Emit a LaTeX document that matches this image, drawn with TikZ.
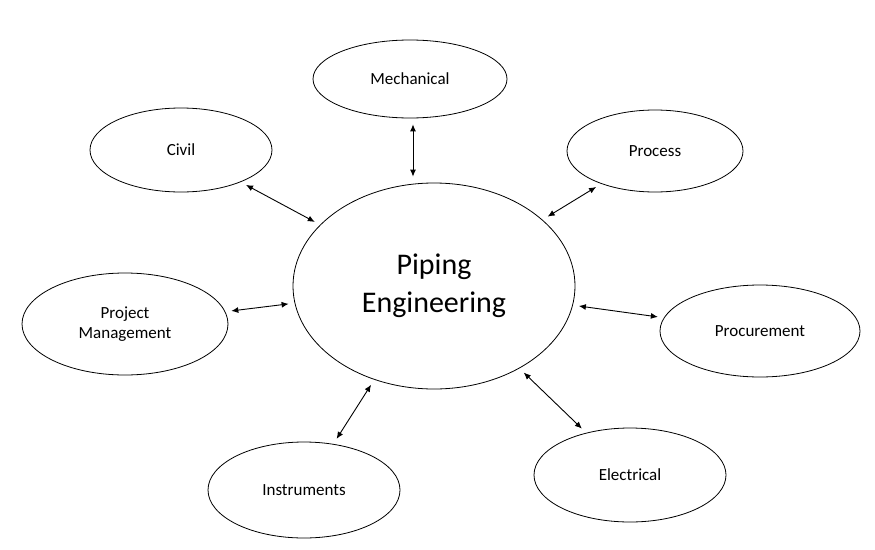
\documentclass[tikz,border=0pt]{standalone}
\usepackage{fontspec}
\setmainfont{Carlito}
\usetikzlibrary{shapes.geometric,arrows.meta}
\begin{document}
\begin{tikzpicture}[x=1pt,y=-1pt,
  el/.style={draw,ellipse,line width=0.8pt,inner sep=0pt,font=\fontsize{17}{20}\selectfont,align=center},
  con/.style={{Latex[length=7pt,width=6pt]}-{Latex[length=7pt,width=6pt]},line width=0.9pt,shorten <=6pt,shorten >=6pt}]
\useasboundingbox (0,0) rectangle (875,549);
\fill[white] (0,0) rectangle (875,549);
\node[el,minimum width=282pt,minimum height=206pt,font=\fontsize{30}{38}\selectfont] (pip) at (434,286) {Piping\\Engineering};
\node[el,minimum width=194pt,minimum height=78pt] (mec) at (410,79) {Mechanical};
\node[el,minimum width=182pt,minimum height=84pt] (civ) at (181,150) {Civil};
\node[el,minimum width=176pt,minimum height=82pt] (pro) at (655,151) {Process};
\node[el,minimum width=206pt,minimum height=102pt] (pm) at (125,324) {Project\\Management};
\node[el,minimum width=200pt,minimum height=92pt] (prc) at (760,331) {Procurement};
\node[el,minimum width=192pt,minimum height=96pt] (ins) at (304,490) {Instruments};
\node[el,minimum width=192pt,minimum height=94pt] (ele) at (630,475) {Electrical};
\draw[con] (mec.south -| 413,0) -- (pip.north -| 413,0);
\draw[con] (civ) -- (pip);
\draw[con] (pro) -- (pip);
\draw[con] (pm) -- (pip);
\draw[con] (prc) -- (pip);
\draw[con] (ins) -- (pip);
\draw[con] (ele) -- (pip);
\end{tikzpicture}
\end{document}
